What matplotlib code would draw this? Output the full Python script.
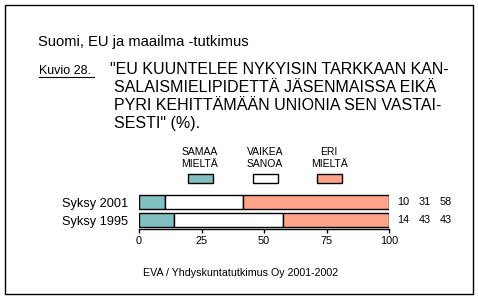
import matplotlib
matplotlib.use("Agg")
import matplotlib.pyplot as plt
from matplotlib.patches import Rectangle
from matplotlib.lines import Line2D

plt.rcParams['font.family'] = ['Liberation Sans', 'DejaVu Sans']

# ---- data ----
periods = ["Syksy 2001", "Syksy 1995"]
categories = ["SAMAA\nMIELTÄ", "VAIKEA\nSANOA", "ERI\nMIELTÄ"]
colors = ["#80C0C0", "#FFFFFF", "#FFA488"]
samaa = [10.2, 14.0]
vaikea = [31.4, 43.6]
eri = [58.4, 42.4]
labels_2001 = ["10", "31", "58"]
labels_1995 = ["14", "43", "43"]
xticks = [0, 25, 50, 75, 100]

title = "Suomi, EU ja maailma -tutkimus"
kuvio = "Kuvio 28."
question_lines = ['"EU KUUNTELEE NYKYISIN TARKKAAN KAN-',
                  'SALAISMIELIPIDETTÄ JÄSENMAISSA EIKÄ',
                  'PYRI KEHITTÄMÄÄN UNIONIA SEN VASTAI-',
                  'SESTI" (%).']
source = "EVA / Yhdyskuntatutkimus Oy 2001-2002"

W, H = 478, 299
fig = plt.figure(figsize=(W / 100, H / 100), dpi=100)
fig.patch.set_facecolor("white")

def fx(px):
    return px / W

def fy(py):
    return 1 - py / H

# outer frame
fig.patches.append(Rectangle((fx(5), fy(294)), fx(468), 289 / H, transform=fig.transFigure,
                             fill=False, edgecolor="black", linewidth=1.0))

# title texts
fig.text(fx(38), fy(46), title, fontsize=10.6, ha="left", va="baseline")
fig.text(fx(39), fy(74), kuvio, fontsize=9, ha="left", va="baseline")
fig.lines.append(Line2D([fx(39), fx(94)], [fy(77), fy(77)], transform=fig.transFigure,
                        color="black", linewidth=0.8))
qx = [110, 114, 114, 114]
qy = [74, 92, 110, 128]
for line, x, y in zip(question_lines, qx, qy):
    fig.text(fx(x), fy(y), line, fontsize=11.5, ha="left", va="baseline")

# legend
leg_cx = [200, 265, 329]
for cat, col, cx in zip(categories, colors, leg_cx):
    fig.text(fx(cx), fy(167), cat, fontsize=7.5, ha="center", va="baseline",
             linespacing=1.25)
    fig.patches.append(Rectangle((fx(cx - 12.5), fy(183)), 25 / W, 9 / H,
                                 transform=fig.transFigure, facecolor=col,
                                 edgecolor="black", linewidth=1.0))

# axes
ax = fig.add_axes([fx(139), fy(229), fx(250), 39 / H])
ypos = list(range(len(periods)))
series = [samaa, vaikea, eri]
left = [0.0] * len(periods)
for vals, col in zip(series, colors):
    ax.barh(ypos, vals, left=left, height=0.78, color=col, edgecolor="black",
            linewidth=1.0)
    left = [l + v for l, v in zip(left, vals)]

ax.set_xlim(0, 100)
ax.set_ylim(1.5, -0.667)
ax.set_yticks(ypos)
ax.set_yticklabels(periods, fontsize=9.2)
ax.tick_params(axis="y", length=0, pad=8)
ax.set_xticks(xticks)
ax.set_xticklabels([str(v) for v in xticks], fontsize=7.8)
ax.tick_params(axis="x", length=3, width=1, pad=2, direction="out")
for s in ["top", "right", "left"]:
    ax.spines[s].set_visible(False)
ax.spines["bottom"].set_linewidth(1.0)
ax.patch.set_alpha(0)

val_x = [105.6, 114.4, 122.8]
for yi, labs in zip(ypos, [labels_2001, labels_1995]):
    for lab, xv in zip(labs, val_x):
        ax.text(xv, yi, lab, fontsize=7.8, ha="center", va="center", clip_on=False)

fig.text(fx(241), fy(276), source, fontsize=7.7, ha="center", va="baseline")

fig.savefig("out.png", dpi=100, facecolor="white")
